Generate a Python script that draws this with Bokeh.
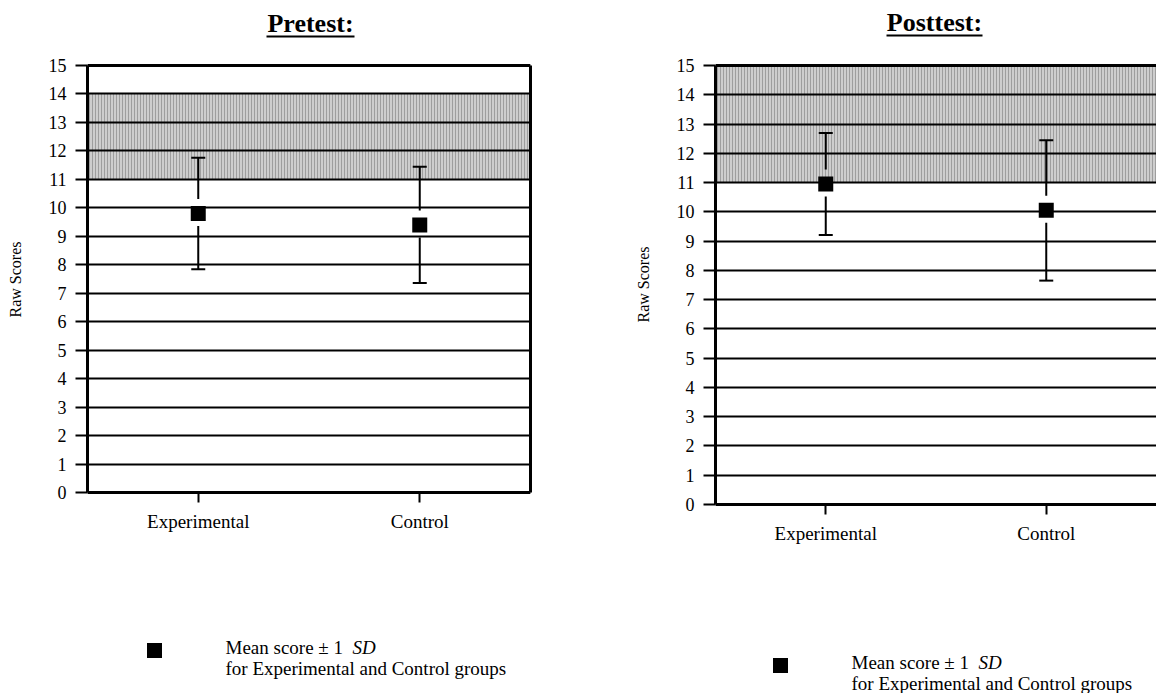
from bokeh.plotting import figure
from bokeh.layouts import row
from bokeh.models import (FactorRange, Range1d, FixedTicker, LinearAxis, Span,
                          BoxAnnotation, Label, ColumnDataSource, Title)
from bokeh.embed import file_html
from bokeh.resources import INLINE

# ---------------- data ----------------
groups = ["Experimental", "Control"]
y_ticks = list(range(0, 16))
pre_mean = [9.80, 9.40]
pre_sd = [1.96, 2.04]
post_mean = [10.95, 10.05]
post_sd = [1.74, 2.40]
pre_band = [11, 14]
post_band = [11, 15]
titles = ["Pretest:", "Posttest:"]
y_label = "Raw Scores"
legend_line1 = "Mean score \u00b1 1"
legend_sd = "SD"
legend_line2 = "for Experimental and Control groups"

FONT = "Liberation Serif"
H = 693
Y_MAX = 15


def make_panel(title, means, sds, band, g):
    ppu = (g["y0"] - g["y15"]) / Y_MAX
    ystart = -(H - g["y0"]) / ppu
    yend = Y_MAX + g["y15"] / ppu

    def ty(py):
        return Y_MAX - (py - g["y15"]) / ppu

    def tx(px):
        return (px - g["left_abs"]) / g["fw"] * len(groups)

    p = figure(x_range=FactorRange(*groups), y_range=Range1d(ystart, yend),
               frame_width=g["fw"], frame_height=H,
               min_border_left=87, min_border_right=g["rb"],
               min_border_top=0, min_border_bottom=0,
               toolbar_location=None, tools="", output_backend="svg")
    p.outline_line_color = None
    p.background_fill_color = "white"
    p.border_fill_color = "white"
    p.xgrid.visible = False
    p.ygrid.ticker = FixedTicker(ticks=y_ticks)
    p.ygrid.grid_line_color = "black"
    p.ygrid.grid_line_width = 2
    p.ygrid.grid_line_alpha = 1

    p.add_layout(BoxAnnotation(bottom=band[0], top=band[1], fill_color="#cecece",
                               fill_alpha=1, line_color=None,
                               hatch_pattern="vertical_line", hatch_color="#9e9e9e",
                               hatch_alpha=1, hatch_scale=3, hatch_weight=1,
                               level="image"))
    p.add_layout(Span(location=Y_MAX, dimension="width", line_color="black", line_width=3))

    ya = p.yaxis[0]
    ya.ticker = FixedTicker(ticks=y_ticks)
    ya.bounds = (0, Y_MAX)
    ya.axis_line_width = 3
    ya.axis_line_color = "black"
    ya.major_tick_out = 12
    ya.major_tick_in = 0
    ya.major_tick_line_width = 2
    ya.major_tick_line_color = "black"
    ya.minor_tick_line_color = None
    ya.major_label_text_font = FONT
    ya.major_label_text_font_size = "18px"
    ya.major_label_text_color = "black"
    ya.major_label_standoff = 9

    # blank spacer axis between tick labels and the y title
    spacer = LinearAxis(ticker=FixedTicker(ticks=[0]), axis_line_color=None,
                        major_tick_out=22, major_tick_in=0,
                        minor_tick_out=0, minor_tick_in=0,
                        major_tick_line_color="white", minor_tick_line_color=None,
                        major_label_overrides={0: ""},
                        major_label_standoff=0, major_label_text_font_size="1px")
    p.add_layout(spacer, "left")
    p.add_layout(Title(text=y_label, align="right", offset=g["ylab_top"],
                       vertical_align="bottom", standoff=0,
                       text_font=FONT, text_font_size="16px",
                       text_font_style="normal", text_color="black"), "left")

    xa = p.xaxis[0]
    xa.fixed_location = 0
    xa.axis_line_width = 3
    xa.axis_line_color = "black"
    xa.major_tick_out = 10
    xa.major_tick_in = 0
    xa.major_tick_line_width = 2
    xa.major_tick_line_color = "black"
    xa.major_label_text_font = FONT
    xa.major_label_text_font_size = "19px"
    xa.major_label_text_color = "black"
    xa.major_label_standoff = 8

    if g["right_border"]:
        ra = LinearAxis(bounds=(0, Y_MAX), ticker=FixedTicker(ticks=[]),
                        axis_line_width=3, axis_line_color="black",
                        major_tick_out=0, major_tick_in=0,
                        minor_tick_out=0, minor_tick_in=0,
                        major_label_text_font_size="0px")
        p.add_layout(ra, "right")

    gap_up = (7.5 + 7) / ppu
    gap_dn = (7.5 + 5) / ppu
    src = ColumnDataSource(dict(
        g=groups, mean=means,
        lower=[m - s for m, s in zip(means, sds)],
        upper=[m + s for m, s in zip(means, sds)],
        top_of_gap=[m + gap_up for m in means],
        bot_of_gap=[m - gap_dn for m in means]))
    p.segment(x0="g", y0="top_of_gap", x1="g", y1="upper", source=src,
              line_color="black", line_width=2)
    p.segment(x0="g", y0="lower", x1="g", y1="bot_of_gap", source=src,
              line_color="black", line_width=2)
    p.scatter(x="g", y="upper", marker="dash", size=14, line_width=2,
              line_color="black", source=src)
    p.scatter(x="g", y="lower", marker="dash", size=14, line_width=2,
              line_color="black", source=src)
    p.scatter(x="g", y="mean", marker="square", size=15, fill_color="black",
              line_color=None, source=src)

    # title with underline
    p.add_layout(Label(x=tx(g["tcx"]), y=ty(g["tmid"]), text=title,
                       text_align="center", text_baseline="middle",
                       text_font=FONT, text_font_size="26px",
                       text_font_style="bold", text_color="black"))
    p.segment(x0=[tx(g["tcx"] - g["thalf"])], y0=[ty(g["uy"])],
              x1=[tx(g["tcx"] + g["thalf"])], y1=[ty(g["uy"])],
              line_color="black", line_width=2)

    # legend
    p.scatter(x=[tx(g["sqx"])], y=[ty(g["sqy"])], marker="square", size=15,
              fill_color="black", line_color=None)
    p.add_layout(Label(x=tx(g["txt"]), y=ty(g["l1"]), text=legend_line1,
                       text_baseline="middle", text_font=FONT,
                       text_font_size="19px", text_color="black"))
    p.add_layout(Label(x=tx(g["txt"] + g["sdoff"]), y=ty(g["l1"]), text=legend_sd,
                       text_baseline="middle", text_font=FONT,
                       text_font_size="19px", text_font_style="italic",
                       text_color="black"))
    p.add_layout(Label(x=tx(g["txt"]), y=ty(g["l2"]), text=legend_line2,
                       text_baseline="middle", text_font=FONT,
                       text_font_size="19px", text_color="black"))
    return p


geo_pre = dict(left_abs=87, fw=443, rb=98, y15=65, y0=492, right_border=True,
               ylab_top=241,
               tcx=310, tmid=23, uy=36, thalf=44,
               sqx=154, sqy=650, txt=225, l1=647, l2=668, sdoff=127)
geo_post = dict(left_abs=715, fw=441, rb=0, y15=65, y0=504, right_border=False,
                ylab_top=246,
                tcx=934, tmid=22, uy=35, thalf=48,
                sqx=780, sqy=665, txt=851, l1=662, l2=683, sdoff=127)

p1 = make_panel(titles[0], pre_mean, pre_sd, pre_band, geo_pre)
p2 = make_panel(titles[1], post_mean, post_sd, post_band, geo_post)

layout = row(p1, p2)
open("out.html", "w").write(file_html(layout, INLINE))
